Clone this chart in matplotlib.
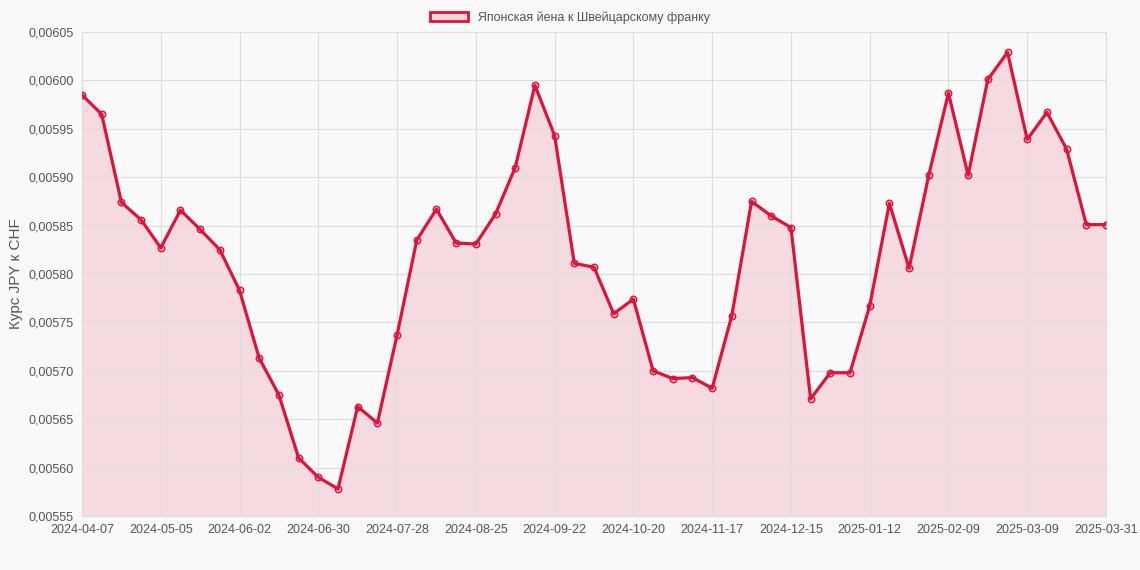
import pandas as pd
import matplotlib
matplotlib.use("Agg")
import matplotlib.pyplot as plt
from matplotlib.patches import Patch
from matplotlib.ticker import FuncFormatter

plt.rcParams["font.family"] = ["Liberation Sans", "DejaVu Sans"]

# weekly labels, last point is labelled 2025-03-31
dates = [d.strftime("%Y-%m-%d") for d in pd.date_range("2024-04-07", periods=52, freq="7D")]
dates.append("2025-03-31")

rates = [
    0.005985, 0.005965, 0.005874, 0.005856, 0.005827, 0.005866, 0.005846, 0.005825,
    0.005783, 0.005713, 0.005675, 0.005610, 0.005590, 0.005578, 0.005663, 0.005646,
    0.005737, 0.005835, 0.005867, 0.005832, 0.005831, 0.005862, 0.005910, 0.005995,
    0.005943, 0.005811, 0.005807, 0.005759, 0.005774, 0.005700, 0.005692, 0.005693,
    0.005682, 0.005757, 0.005875, 0.005860, 0.005848, 0.005671, 0.005698, 0.005698,
    0.005767, 0.005873, 0.005806, 0.005902, 0.005987, 0.005902, 0.006001, 0.006029,
    0.005939, 0.005967, 0.005929, 0.005851, 0.005851,
]

series_label = "Японская йена к Швейцарскому франку"
y_label = "Курс JPY к CHF"
color = "#DC143C"
bg = "#f9f9f9"

fig = plt.figure(figsize=(11.4, 5.7), dpi=100, facecolor=bg)
ax = fig.add_axes([82 / 1140, 1 - 516 / 570, 1024 / 1140, 484 / 570])
ax.set_facecolor(bg)

x = list(range(len(rates)))
ax.fill_between(x, rates, 0.00555, color=color, alpha=0.13, linewidth=0)
ax.plot(x, rates, color=color, linewidth=2.3, zorder=3)
ax.scatter(x, rates, s=22, facecolor=(0.86, 0.08, 0.24, 0.25), edgecolor=color,
           linewidth=1, zorder=4)

ax.set_xlim(0, len(rates) - 1)
ax.set_ylim(0.00555, 0.00605)
ticks = list(range(0, len(rates), 4))
ax.set_xticks(ticks)
ax.set_xticklabels([dates[i] for i in ticks])
ax.set_yticks([0.00555 + 0.00005 * i for i in range(11)])
ax.yaxis.set_major_formatter(FuncFormatter(lambda v, p: f"{v:.5f}".replace(".", ",")))
ax.tick_params(labelsize=9, colors="#555555", length=0, pad=6)
ax.grid(True, color="#dddddd", linewidth=0.8)
for s in ax.spines.values():
    s.set_color("#dddddd")
ax.set_ylabel(y_label, fontsize=11, color="#555555")

fig.legend(handles=[Patch(facecolor=(0.86, 0.08, 0.24, 0.15), edgecolor=color, linewidth=2)],
           labels=[series_label], loc="upper center", bbox_to_anchor=(0.5, 1.0),
           frameon=False, fontsize=9, labelcolor="#555555", handlelength=3)

fig.savefig("out.png", dpi=100, facecolor=bg)
